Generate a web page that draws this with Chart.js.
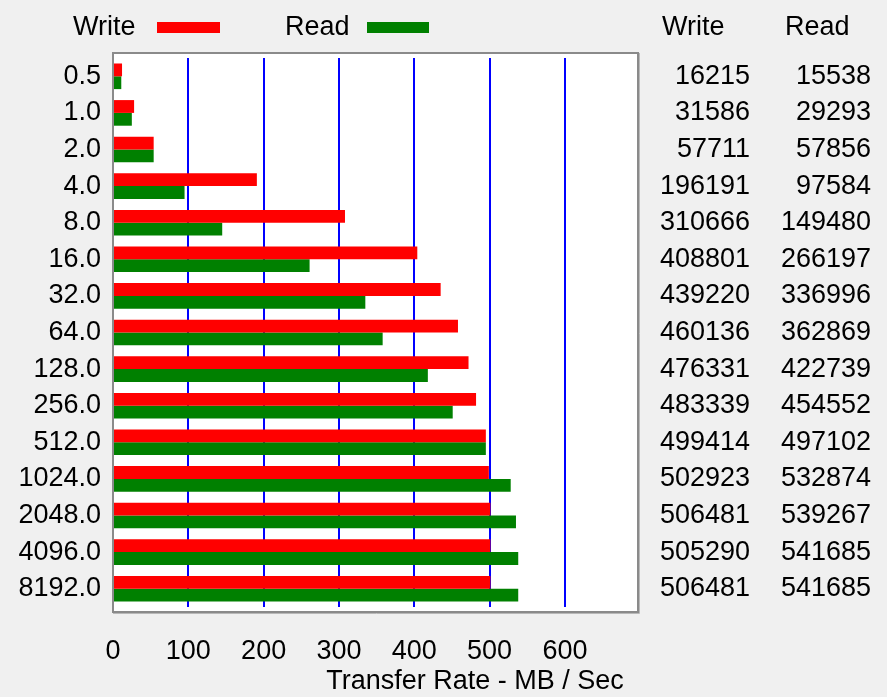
<!DOCTYPE html>
<html>
<head>
<meta charset="utf-8">
<script src="https://cdn.jsdelivr.net/npm/chart.js@4/dist/chart.umd.min.js"></script>
<style>
  body { margin: 0; background: #f0f0f0; }
  #wrap { width: 887px; height: 697px; }
</style>
</head>
<body>
<div id="wrap"><canvas id="attoChart" width="887" height="697"></canvas></div>
<script>
var blockSizes = ['0.5','1.0','2.0','4.0','8.0','16.0','32.0','64.0','128.0','256.0','512.0','1024.0','2048.0','4096.0','8192.0'];
// bar lengths in MB/s
var writeBars = [12,28,54,191,308,404,435,458,472,482,495,499,501,501,501];
var readBars = [11,25,54,95,145,261,335,358,418,451,495,528,535,538,538];
// numbers in the table at the right
var writeTable = ['16215','31586','57711','196191','310666','408801','439220','460136','476331','483339','499414','502923','506481','505290','506481'];
var readTable = ['15538','29293','57856','97584','149480','266197','336996','362869','422739','454552','497102','532874','539267','541685','541685'];
var xTicks = [0,100,200,300,400,500,600];

var FONT = '"Liberation Sans", Arial, sans-serif';

var frame = {
  id: 'frame',
  beforeDraw: function(chart) {
    var c = chart.ctx, a = chart.chartArea;
    c.save();
    c.fillStyle = '#f0f0f0';
    c.fillRect(0, 0, chart.width, chart.height);
    c.fillStyle = '#ffffff';
    c.fillRect(a.left, a.top - 5, a.right - a.left, a.bottom - a.top + 10);
    c.restore();
  },
  afterDraw: function(chart) {
    var c = chart.ctx, a = chart.chartArea;
    var y = chart.scales.y;
    c.save();
    c.strokeStyle = '#8a8a8a';
    c.lineWidth = 2;
    c.strokeRect(a.left, a.top - 5, a.right - a.left, a.bottom - a.top + 10);
    c.strokeStyle = '#b8b8b8';
    c.lineWidth = 1;
    c.beginPath();
    c.moveTo(a.right + 1.5, a.top - 5);
    c.lineTo(a.right + 1.5, a.bottom + 6.5);
    c.lineTo(a.left, a.bottom + 6.5);
    c.stroke();

    c.font = '27px ' + FONT;
    c.fillStyle = '#000';
    c.textBaseline = 'middle';
    // legend
    c.textAlign = 'left';
    c.fillText('Write', 73, 28);
    c.fillText('Read', 285, 28);
    c.fillStyle = '#ff0000';
    c.fillRect(157, 22, 63, 11);
    c.fillStyle = '#008000';
    c.fillRect(367, 22, 62, 11);
    // table header
    c.fillStyle = '#000';
    c.fillText('Write', 662, 28);
    c.fillText('Read', 785, 28);
    // table values
    c.textAlign = 'right';
    for (var i = 0; i < blockSizes.length; i++) {
      var py = y.getPixelForValue(i);
      c.fillText(writeTable[i], 750, py);
      c.fillText(readTable[i], 871, py);
    }
    // axis title
    c.textAlign = 'center';
    c.fillText('Transfer Rate - MB / Sec', 475, 682);
    c.restore();
  }
};

var ctx = document.getElementById('attoChart').getContext('2d');
var attoChart = new Chart(ctx, {
  type: 'bar',
  data: {
    labels: blockSizes,
    datasets: [{
      label: 'Write',
      data: writeBars,
      backgroundColor: '#ff0000'
    }, {
      label: 'Read',
      data: readBars,
      backgroundColor: '#008000'
    }]
  },
  options: {
    indexAxis: 'y',
    responsive: false,
    animation: false,
    layout: { padding: { top: 58, right: 249, bottom: 0, left: 0 } },
    datasets: { bar: { categoryPercentage: 0.7, barPercentage: 1 } },
    plugins: { legend: { display: false }, tooltip: { enabled: false } },
    scales: {
      x: {
        min: 0,
        max: 697,
        afterBuildTicks: function(scale) {
          scale.ticks = xTicks.map(function(v) { return { value: v }; });
        },
        afterFit: function(scale) { scale.height = 90; },
        border: { display: false },
        grid: {
          drawTicks: false,
          lineWidth: 2,
          color: function(c) { return c.tick && c.tick.value === 0 ? 'rgba(0,0,0,0)' : '#0000ff'; }
        },
        ticks: { padding: 28, color: '#000', font: { family: FONT, size: 27 } }
      },
      y: {
        afterFit: function(scale) { scale.width = 113; },
        border: { display: false },
        grid: { display: false, drawTicks: false },
        ticks: { padding: 12, color: '#000', font: { family: FONT, size: 27 } }
      }
    }
  },
  plugins: [frame]
});
</script>
</body>
</html>
